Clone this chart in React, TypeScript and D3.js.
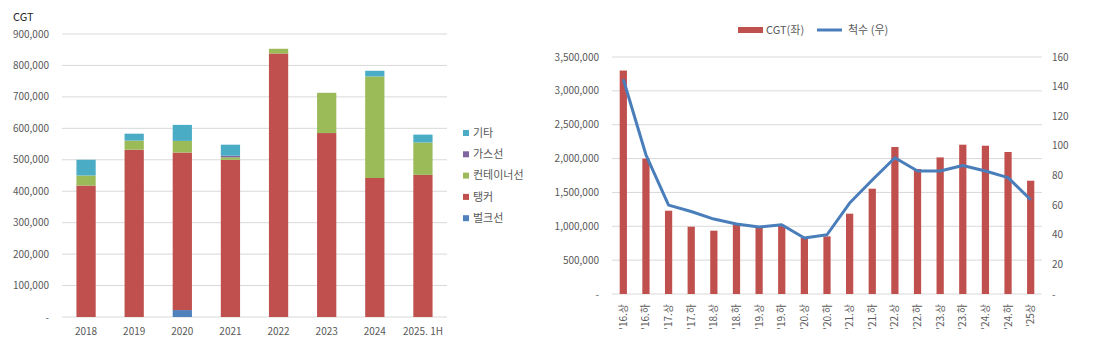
import React from "react";
import * as d3 from "d3";

const years = ["2018", "2019", "2020", "2021", "2022", "2023", "2024", "2025. 1H"];
const bulk = [0, 0, 22000, 0, 0, 0, 0, 0];
const tanker = [418000, 532000, 501000, 500000, 838000, 585000, 442000, 452000];
const container = [32000, 29000, 37000, 8000, 15000, 128000, 323000, 103000];
const gas = [0, 0, 0, 5000, 0, 0, 0, 0];
const other = [50000, 22000, 51000, 35000, 0, 0, 18000, 25000];
const leftTicks = [0, 100000, 200000, 300000, 400000, 500000, 600000, 700000, 800000, 900000];

const seriesNames = ["벌크선", "탱커", "컨테이너선", "가스선", "기타"];
const seriesColors = ["#4F81BD", "#C0504D", "#9BBB59", "#8064A2", "#4BACC6"];

const halves = ["'16.상", "'16.하", "'17.상", "'17.하", "'18.상", "'18.하", "'19.상", "'19.하", "'20.상", "'20.하", "'21.상", "'21.하", "'22.상", "'22.하", "'23.상", "'23.하", "'24.상", "'24.하", "'25상"];
const cgt = [3300000, 2000000, 1230000, 994000, 935000, 1025000, 975000, 1008000, 827000, 851000, 1186000, 1555000, 2171000, 1846000, 2017000, 2205000, 2190000, 2097000, 1673000];
const ships = [145, 94, 60, 55.7, 50.6, 47.2, 45.2, 46.7, 37.8, 40, 61.4, 77, 92, 83, 83, 86.7, 83, 78.6, 63.6];
const rightLeftTicks = [0, 500000, 1000000, 1500000, 2000000, 2500000, 3000000, 3500000];
const rightRightTicks = [0, 20, 40, 60, 80, 100, 120, 140, 160];

const FONT = "'Noto Sans CJK KR', 'Noto Sans', sans-serif";
const fmt = (v: number) => (v === 0 ? "-" : d3.format(",")(v));

export default function App() {
  // Left chart
  const lx = d3.scaleBand().domain(years).range([62, 447]).paddingInner(0.6).paddingOuter(0.3);
  const ly = d3.scaleLinear().domain([0, 900000]).range([317, 34]);
  const stackData = years.map((y, i) => ({
    year: y,
    s0: bulk[i], s1: tanker[i], s2: container[i], s3: gas[i], s4: other[i],
  }));
  const stack = d3.stack<any>().keys(["s0", "s1", "s2", "s3", "s4"])(stackData);

  // Right chart
  const rx = d3.scaleBand().domain(halves).range([612, 1042]).paddingInner(0.68).paddingOuter(0.34);
  const ry = d3.scaleLinear().domain([0, 3500000]).range([294, 57]);
  const ry2 = d3.scaleLinear().domain([0, 160]).range([294, 57]);
  const line = d3
    .line<number>()
    .x((_, i) => (rx(halves[i]) as number) + rx.bandwidth() / 2)
    .y((d) => ry2(d));

  const legendOrder = [4, 3, 2, 1, 0];

  return (
    <svg width={1098} height={346} style={{ position: "absolute", left: 0, top: 0, fontFamily: FONT }}>
      <rect width={1098} height={346} fill="#fff" />
      {/* LEFT CHART */}
      <text x={13} y={21} fontSize={11} fill="#262626">CGT</text>
      {leftTicks.map((t) => (
        <g key={"lt" + t}>
          <line x1={62} x2={447} y1={ly(t)} y2={ly(t)} stroke="#D9D9D9" strokeWidth={1} />
          <text x={49} y={ly(t)} dy="0.35em" textAnchor="end" fontSize={10} fill="#595959">{fmt(t)}</text>
        </g>
      ))}
      {stack.map((layer, k) => (
        <g key={"layer" + k} fill={seriesColors[k]}>
          {layer.map((d, i) =>
            d[1] - d[0] > 0 ? (
              <rect
                key={i}
                x={lx(years[i]) as number}
                width={lx.bandwidth()}
                y={ly(d[1])}
                height={ly(d[0]) - ly(d[1])}
              />
            ) : null
          )}
        </g>
      ))}
      {years.map((y) => (
        <text key={"xl" + y} x={(lx(y) as number) + lx.bandwidth() / 2} y={335} textAnchor="middle" fontSize={10} fill="#595959">{y}</text>
      ))}
      {legendOrder.map((k, j) => (
        <g key={"leg" + k} transform={`translate(463, ${133 + j * 21.3})`}>
          <rect x={0} y={-3} width={6} height={6} fill={seriesColors[k]} />
          <text x={10} y={0} dy="0.35em" fontSize={11} fill="#595959">{seriesNames[k]}</text>
        </g>
      ))}

      {/* RIGHT CHART */}
      {rightLeftTicks.map((t) => (
        <g key={"rlt" + t}>
          <line x1={612} x2={1042} y1={ry(t)} y2={ry(t)} stroke="#D9D9D9" strokeWidth={1} />
          <text x={599} y={ry(t)} dy="0.35em" textAnchor="end" fontSize={10} fill="#595959">{fmt(t)}</text>
        </g>
      ))}
      {rightRightTicks.map((t) => (
        <text key={"rrt" + t} x={1052} y={ry2(t)} dy="0.35em" textAnchor="start" fontSize={10} fill="#595959">{t === 0 ? "-" : t}</text>
      ))}
      {cgt.map((v, i) => (
        <rect key={"cb" + i} x={rx(halves[i]) as number} width={rx.bandwidth()} y={ry(v)} height={ry(0) - ry(v)} fill="#C0504D" />
      ))}
      <path d={line(ships) as string} fill="none" stroke="#4A7EBB" strokeWidth={3} strokeLinejoin="round" />
      {halves.map((h) => {
        const cx = (rx(h) as number) + rx.bandwidth() / 2;
        return (
          <text key={"hx" + h} transform={`translate(${cx + 3.5}, 304) rotate(-90)`} textAnchor="end" fontSize={10} fill="#595959">{h}</text>
        );
      })}
      <rect x={738} y={27} width={25} height={6} fill="#C0504D" />
      <text x={766} y={30} dy="0.35em" fontSize={11} fill="#595959">CGT(좌)</text>
      <line x1={817} x2={842} y1={30} y2={30} stroke="#4A7EBB" strokeWidth={3} />
      <text x={848} y={30} dy="0.35em" fontSize={11} fill="#595959">척수 (우)</text>
    </svg>
  );
}
